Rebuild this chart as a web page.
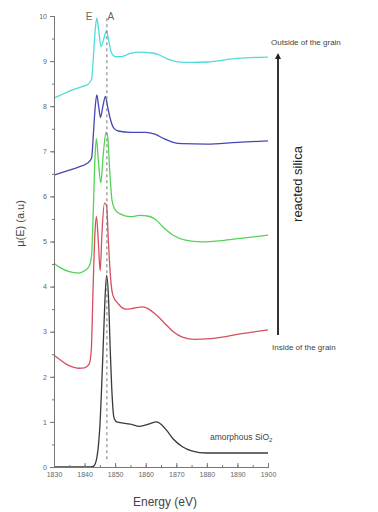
<!DOCTYPE html>
<html>
<head>
<meta charset="utf-8">
<script src="https://cdn.jsdelivr.net/npm/d3@7"></script>
<style>
  body { margin: 0; background: #fff; }
  svg { display: block; }
</style>
</head>
<body>
<svg width="378" height="512"></svg>
<script>
const { select, scaleLinear, line, axisLeft, axisBottom, range, curveMonotoneX } = d3;

// spectra, [energy eV, mu(E)]
const amorphous = [[1830,0],[1842,0],[1843,0.02],[1844,0.2],[1845,0.9],[1846,2.5],[1846.6,3.6],[1847.2,4.25],[1847.8,3.8],[1848.4,2.6],[1849,1.6],[1849.6,1.1],[1850.5,1.0],[1855,0.95],[1858,0.9],[1861,0.95],[1863.5,1.0],[1865,0.95],[1867,0.8],[1869,0.62],[1872,0.45],[1875,0.36],[1880,0.31],[1900,0.31]];
const inside = [[1830,2.48],[1832,2.38],[1834,2.28],[1836,2.22],[1838,2.19],[1840,2.2],[1841.5,2.28],[1842.2,2.6],[1842.8,4.0],[1843.4,5.2],[1843.9,5.55],[1844.5,5.0],[1845.1,4.35],[1845.7,5.2],[1846.5,5.85],[1847.2,5.8],[1847.8,5.0],[1848.5,4.2],[1849.3,3.8],[1851,3.62],[1853.5,3.5],[1856,3.52],[1859,3.55],[1861,3.5],[1863,3.4],[1866,3.2],[1869,3.0],[1872,2.88],[1876,2.83],[1880,2.84],[1885,2.88],[1890,2.94],[1895,2.99],[1900,3.04]];
const middle = [[1830,4.52],[1832,4.42],[1835,4.33],[1838,4.3],[1840,4.35],[1841.5,4.45],[1842.3,4.7],[1842.9,5.8],[1843.5,7.0],[1843.9,7.28],[1844.5,6.8],[1845.3,6.3],[1846.2,7.0],[1847,7.42],[1847.6,7.3],[1848.2,6.6],[1849,5.9],[1850,5.7],[1852,5.6],[1855,5.55],[1858,5.58],[1861,5.56],[1863,5.5],[1866,5.3],[1869,5.14],[1873,5.03],[1878,4.99],[1885,5.02],[1891,5.07],[1900,5.14]];
const upper = [[1830,6.47],[1834,6.56],[1838,6.65],[1841,6.74],[1842.3,6.85],[1842.9,7.4],[1843.5,8.0],[1844,8.25],[1844.6,8.0],[1845.2,7.75],[1846,8.0],[1846.8,8.22],[1847.5,8.0],[1848.3,7.75],[1849.5,7.52],[1851,7.45],[1855,7.42],[1860,7.42],[1863,7.38],[1866,7.28],[1869,7.2],[1872,7.17],[1880,7.16],[1890,7.2],[1900,7.23]];
const outside = [[1830,8.18],[1833,8.27],[1836,8.36],[1839,8.43],[1841,8.48],[1842.3,8.6],[1842.9,9.1],[1843.5,9.7],[1844,9.95],[1844.6,9.7],[1845.4,9.32],[1846.3,9.5],[1847.2,9.67],[1847.9,9.45],[1848.7,9.2],[1850,9.1],[1852,9.1],[1855,9.17],[1858,9.2],[1862,9.18],[1864,9.15],[1867,9.05],[1870,8.99],[1875,8.97],[1880,8.98],[1890,9.06],[1900,9.09]];

const series = [amorphous, inside, middle, upper, outside];
const colors = ['#3a3a3a', '#d4505e', '#55d255', '#4646b4', '#4fdcd8'];

const xTicks = [1830, 1840, 1850, 1860, 1870, 1880, 1890, 1900];
const yTicks = [0, 1, 2, 3, 4, 5, 6, 7, 8, 9, 10];
const edgeE = 1841.5;   // E label
const edgeA = 1847.3;   // A line

const svg = select('svg');
const tickColor = '#777';

const x = scaleLinear().domain([1830, 1900]).range([54, 268]);
const y = scaleLinear().domain([0, 10]).range([467, 16]);

// spectra
const path = line()
    .x((d) => x(d[0]))
    .y((d) => y(d[1]))
    .curve(curveMonotoneX);

svg.append('g')
    .selectAll('path')
    .data(series)
    .join('path')
    .attr('fill', 'none')
    .attr('stroke', (d, i) => colors[i])
    .attr('stroke-width', 1.3)
    .attr('d', path);

// dashed marker at A
svg.append('line')
    .attr('x1', x(edgeA)).attr('x2', x(edgeA))
    .attr('y1', y(9.95)).attr('y2', y(0.1))
    .attr('stroke', '#777')
    .attr('stroke-width', 1)
    .attr('stroke-dasharray', '3,3');

svg.append('text')
    .attr('x', x(edgeE)).attr('y', 20)
    .attr('text-anchor', 'middle')
    .attr('font-family', 'Liberation Sans, Arial, sans-serif')
    .attr('font-size', 10)
    .attr('fill', '#666')
    .text('E');
svg.append('text')
    .attr('x', x(edgeA) + 4).attr('y', 20)
    .attr('text-anchor', 'middle')
    .attr('font-family', 'Liberation Sans, Arial, sans-serif')
    .attr('font-size', 10)
    .attr('fill', '#666')
    .text('A');

// axes
const styleAxis = (g) => {
    g.selectAll('.domain').attr('stroke', tickColor);
    g.selectAll('.tick line').attr('stroke', tickColor);
    g.selectAll('.tick text')
        .attr('fill', '#666')
        .attr('font-size', 7)
        .attr('font-family', 'Liberation Sans, Arial, sans-serif');
};

svg.append('g')
    .attr('transform', `translate(${x(1830)},0)`)
    .call(axisLeft(y).tickValues(range(0, 10.01, 0.5)).tickSize(2).tickFormat(() => ''))
    .call((g) => g.selectAll('.tick text').remove())
    .call(styleAxis);
svg.append('g')
    .attr('transform', `translate(${x(1830)},0)`)
    .call(axisLeft(y).tickValues(yTicks).tickSize(4).tickPadding(3).tickFormat(d3.format('d')))
    .call(styleAxis);

svg.append('g')
    .attr('transform', `translate(0,${y(0)})`)
    .call(axisBottom(x).tickValues(range(1830, 1900.1, 5)).tickSize(-2).tickFormat(() => ''))
    .call((g) => g.selectAll('.tick text').remove())
    .call(styleAxis);
svg.append('g')
    .attr('transform', `translate(0,${y(0)})`)
    .call(axisBottom(x).tickValues(xTicks).tickSize(-4).tickPadding(5).tickFormat(d3.format('d')))
    .call(styleAxis);

// axis titles
svg.append('text')
    .attr('transform', `translate(24,${y(5.4)}) rotate(-90)`)
    .attr('text-anchor', 'middle')
    .attr('font-family', 'Liberation Sans, Arial, sans-serif')
    .attr('font-size', 11)
    .attr('fill', '#444')
    .text('μ(E) (a.u)');

svg.append('text')
    .attr('x', 165).attr('y', 506)
    .attr('text-anchor', 'middle')
    .attr('font-family', 'Liberation Sans, Arial, sans-serif')
    .attr('font-size', 12)
    .attr('fill', '#444')
    .text('Energy (eV)');

// amorphous label
const lab = svg.append('text')
    .attr('x', 210).attr('y', 440)
    .attr('font-family', 'Liberation Sans, Arial, sans-serif')
    .attr('font-size', 8.5)
    .attr('fill', '#444')
    .text('amorphous SiO');
lab.append('tspan')
    .attr('font-size', 6)
    .attr('dy', 2)
    .text('2');

// reacted silica arrow
svg.append('defs')
    .append('marker')
    .attr('id', 'head')
    .attr('viewBox', '0 0 10 10')
    .attr('refX', 5).attr('refY', 5)
    .attr('markerWidth', 3).attr('markerHeight', 4)
    .attr('orient', 'auto')
    .append('path')
    .attr('d', 'M0,0 L10,5 L0,10 Z')
    .attr('fill', '#222');

svg.append('line')
    .attr('x1', 278).attr('x2', 278)
    .attr('y1', 335).attr('y2', 56)
    .attr('stroke', '#333')
    .attr('stroke-width', 2)
    .attr('marker-end', 'url(#head)');

svg.append('text')
    .attr('x', 271).attr('y', 45)
    .attr('font-family', 'Liberation Sans, Arial, sans-serif')
    .attr('font-size', 8)
    .attr('fill', '#444')
    .text('Outside of the grain');

svg.append('text')
    .attr('x', 272).attr('y', 350)
    .attr('font-family', 'Liberation Sans, Arial, sans-serif')
    .attr('font-size', 8)
    .attr('fill', '#444')
    .text('Inside of the grain');

svg.append('text')
    .attr('transform', 'translate(302,184) rotate(-90)')
    .attr('text-anchor', 'middle')
    .attr('font-family', 'Liberation Sans, Arial, sans-serif')
    .attr('font-size', 13)
    .attr('fill', '#222')
    .text('reacted silica');
</script>
</body>
</html>
